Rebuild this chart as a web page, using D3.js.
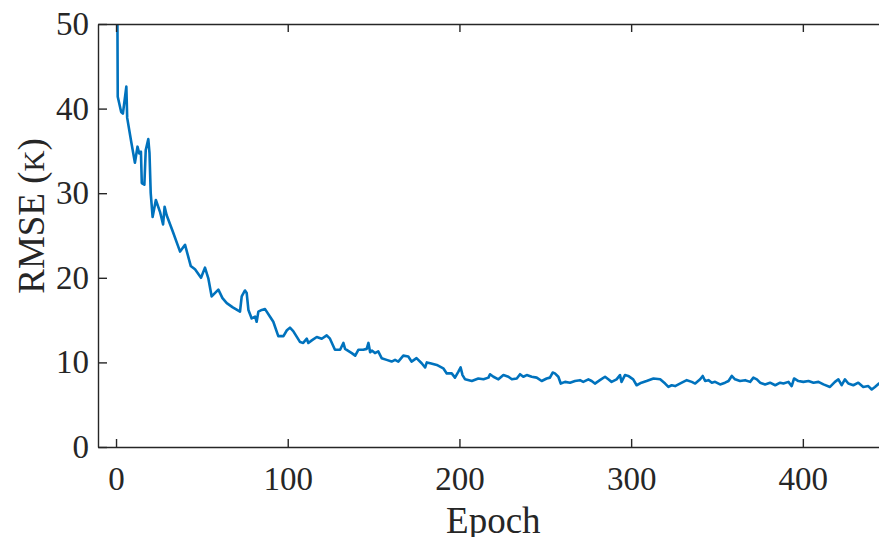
<!DOCTYPE html>
<html>
<head>
<meta charset="utf-8">
<script src="https://cdn.jsdelivr.net/npm/d3@7"></script>
<style>
  html, body { margin: 0; padding: 0; background: #fff; }
  svg { display: block; }
  .axis text { font-family: "Liberation Serif", "Times New Roman", serif; font-size: 33px; fill: #262626; }
  .axis path, .axis line { stroke: #262626; stroke-width: 1.4; }
</style>
</head>
<body>
<svg id="chart" width="879" height="537"></svg>
<script>
  // values (epoch, RMSE in K)
  var epochs = [0, 1, 3, 4, 6, 6.5, 9, 11, 12.5, 13.5, 14.5, 15, 16.5, 17.3, 18.8, 19.5, 20.2, 21.3, 23.2, 25.6,
    27.4, 28.3, 29.5, 33, 37.3, 40.2, 43.5, 46, 49.5, 51.8, 53.8, 55.7, 59.6, 62, 64.5, 68, 72.2, 73.2, 75.1, 76.1,
    77.1, 79, 81, 81.9, 82.9, 84.9, 86.8, 89.7, 91.6, 94.5, 97.5, 99.5, 101.3, 103.2, 107.2, 109, 111.1, 112, 114, 116.9,
    119.8, 122.7, 124.6, 127.5, 130.5, 132.4, 133.4, 137.3, 139.3, 141.2, 144, 146, 147, 148, 149, 150.8, 152.7, 154.7, 157.6, 160.5,
    162.5, 164.4, 167.3, 170.2, 172.1, 175, 178, 180, 181, 183, 186.8, 190.6, 192.6, 195.5, 197.4, 199.4, 200.7, 201.8, 203.3, 207.2,
    211, 214, 216.9, 217.8, 219.8, 222.7, 225.6, 228.5, 230.5, 233.4, 235.3, 237.2, 239.2, 242.1, 245, 247.9, 250.8, 252.7, 254.3, 255.6,
    257.6, 259, 261.5, 264.4, 267.3, 270.2, 272.1, 275.1, 277, 278.9, 281.8, 284.8, 286.7, 288.6, 291.5, 293.5, 294.4, 296.4, 298.3, 301.2,
    303.2, 306, 309, 313, 316.9, 319.8, 321.7, 323.6, 325.6, 329.5, 332.4, 335.3, 337.3, 340.2, 341.7, 343.1, 345, 347, 348.9, 351.8,
    354.7, 356.7, 358.6, 360.5, 363.4, 366.4, 369.3, 371.2, 373.2, 375.1, 378, 380.9, 383.9, 386.8, 388.7, 391.6, 393.5, 394.9, 397.4, 400.3,
    403.3, 406.2, 409.1, 412, 415.8, 418.7, 420.7, 422.6, 424.5, 426.5, 429.4, 432.3, 435.2, 438.1, 440.1, 442, 444.3, 447];
  var rmse = [90, 41.4, 39.6, 39.4, 42.6, 38.9, 35.9, 33.6, 35.5, 34.7, 34.9, 31.2, 31.0, 35.1, 36.4, 34.7, 30.0, 27.2, 29.2, 27.8,
    26.3, 28.4, 27.4, 25.5, 23.1, 23.9, 21.4, 21.0, 20.0, 21.2, 19.9, 17.8, 18.6, 17.6, 17.0, 16.5, 16.0, 17.8, 18.5, 18.2,
    16.2, 15.2, 15.4, 14.8, 16.0, 16.2, 16.3, 15.4, 14.8, 13.1, 13.1, 13.8, 14.1, 13.7, 12.4, 12.3, 12.8, 12.3, 12.6, 13.0,
    12.8, 13.2, 12.8, 11.5, 11.5, 12.3, 11.6, 11.1, 10.8, 11.5, 11.5, 11.6, 12.3, 11.2, 11.4, 11.1, 11.3, 10.5, 10.3, 10.1,
    10.3, 10.1, 10.8, 10.7, 10.1, 10.5, 9.9, 9.4, 10.0, 9.9, 9.7, 9.3, 8.7, 8.7, 8.2, 8.9, 9.4, 8.5, 8.0, 7.8,
    8.1, 8.0, 8.2, 8.6, 8.3, 8.0, 8.5, 8.3, 8.0, 8.1, 8.6, 8.3, 8.5, 8.3, 8.2, 7.8, 8.1, 8.2, 8.8, 8.7,
    8.3, 7.5, 7.7, 7.6, 7.8, 7.9, 7.7, 8.0, 7.8, 7.5, 7.9, 8.3, 8.0, 7.7, 8.0, 8.5, 7.7, 8.5, 8.4, 8.0,
    7.3, 7.6, 7.8, 8.1, 8.0, 7.5, 7.1, 7.3, 7.2, 7.6, 7.9, 7.7, 7.5, 8.0, 8.4, 7.8, 7.9, 7.6, 7.7, 7.4,
    7.6, 7.8, 8.4, 8.0, 7.8, 7.9, 7.7, 8.2, 8.0, 7.6, 7.4, 7.6, 7.3, 7.6, 7.5, 7.7, 7.2, 8.1, 7.8, 7.7,
    7.8, 7.6, 7.7, 7.4, 7.1, 7.7, 8.0, 7.3, 8.0, 7.5, 7.3, 7.6, 7.1, 7.2, 6.8, 7.1, 7.5, 7.8];
  var xTicks = [0, 100, 200, 300, 400];
  var yTicks = [0, 10, 20, 30, 40, 50];
  var xLabel = 'Epoch';

  (function () {
    var svg = d3.select('#chart'),
      boxLeft = 98,
      boxTop = 24,
      boxBottom = 447,
      boxRight = 888.7,
      serif = '"Liberation Serif", "Times New Roman", serif';

    var x = d3.scaleLinear().domain([-10.5, 450]).range([boxLeft, boxRight]);
    var y = d3.scaleLinear().domain([0, 50]).range([boxBottom, boxTop]);

    var points = epochs.map(function (e, i) { return [e, rmse[i]]; });

    svg.append('defs').append('clipPath').attr('id', 'plot-clip')
      .append('rect')
      .attr('x', boxLeft).attr('y', boxTop)
      .attr('width', boxRight - boxLeft).attr('height', boxBottom - boxTop);

    svg.append('path')
      .datum(points)
      .attr('clip-path', 'url(#plot-clip)')
      .attr('fill', 'none')
      .attr('stroke', '#0072BD')
      .attr('stroke-width', 2.6)
      .attr('stroke-linejoin', 'round')
      .attr('d', d3.line()
        .x(function (d) { return x(d[0]); })
        .y(function (d) { return y(d[1]); }));

    svg.append('g')
      .attr('class', 'axis')
      .attr('transform', 'translate(0,' + boxBottom + ')')
      .call(d3.axisBottom(x).tickValues(xTicks).tickSizeInner(-8).tickSizeOuter(0).tickPadding(20));

    svg.append('g')
      .attr('class', 'axis')
      .attr('transform', 'translate(0,' + boxTop + ')')
      .call(d3.axisTop(x).tickValues(xTicks).tickSizeInner(-8).tickSizeOuter(0).tickFormat(''));

    svg.append('g')
      .attr('class', 'axis')
      .attr('transform', 'translate(' + boxLeft + ',0)')
      .call(d3.axisLeft(y).tickValues(yTicks).tickSizeInner(-9).tickSizeOuter(0).tickPadding(9));

    svg.append('text')
      .attr('x', (boxLeft + boxRight) / 2)
      .attr('y', 533)
      .attr('text-anchor', 'middle')
      .style('font-family', serif)
      .style('font-size', '37px')
      .style('fill', '#262626')
      .text(xLabel);

    var yLab = svg.append('text')
      .attr('transform', 'translate(44,216) rotate(-90)')
      .attr('text-anchor', 'middle')
      .style('font-family', serif)
      .style('font-size', '37px')
      .style('fill', '#262626');
    yLab.append('tspan').text('RMSE (');
    yLab.append('tspan').style('font-size', '29px').text('K');
    yLab.append('tspan').text(')');
  })();
</script>
</body>
</html>
